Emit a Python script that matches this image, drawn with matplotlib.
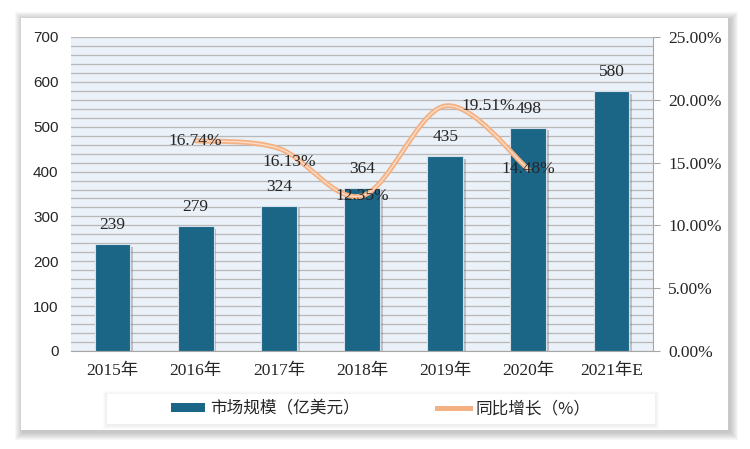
import matplotlib
matplotlib.use('Agg')
import matplotlib.pyplot as plt
from matplotlib.path import Path
from matplotlib.patches import PathPatch, Rectangle, Patch
from matplotlib.lines import Line2D
import matplotlib.patheffects as pe
from matplotlib.ticker import MultipleLocator, FuncFormatter

years = ['2015年', '2016年', '2017年', '2018年', '2019年', '2020年', '2021年E']
market = [239, 279, 324, 364, 435, 498, 580]
growth_idx = [1, 2, 3, 4, 5]
growth = [16.74, 16.13, 12.35, 19.51, 14.48]
growth_labels = ['16.74%', '16.13%', '12.35%', '19.51%', '14.48%']

BAR = '#1B6587'
LINE = '#F4B183'
TXT = '#262626'
SERIF = ['Liberation Serif', 'Noto Sans CJK SC']
CJK = ['Noto Sans CJK SC', 'DejaVu Sans']

W, H = 750, 449
fig = plt.figure(figsize=(W / 100, H / 100), dpi=100)
fig.patch.set_facecolor('white')


def soft_box(x0, y0, x1, y1, steps, alpha, dx, dy, z):
    for k in range(steps, 0, -1):
        fig.patches.append(Rectangle(((x0 - k + dx) / W, (H - y1 - k - dy) / H),
                                     (x1 - x0 + 2 * k) / W, (y1 - y0 + 2 * k) / H,
                                     transform=fig.transFigure, facecolor='#707070',
                                     edgecolor='none', alpha=alpha, zorder=z))
    fig.patches.append(Rectangle((x0 / W, (H - y1) / H), (x1 - x0) / W, (y1 - y0) / H,
                                 transform=fig.transFigure, facecolor='white',
                                 edgecolor='none', zorder=z + 0.1))


# card with shadow
soft_box(21, 18, 728, 430, 8, 0.055, 2, 2, 0)

ax = fig.add_axes([71 / W, (H - 351) / H, 582 / W, 314 / H])
ax.set_zorder(1)
ax.set_facecolor('#EAF1F8')
x = list(range(len(years)))
bars = ax.bar(x, market, width=0.43, color=BAR, edgecolor='#D5E0EA', linewidth=0.8, zorder=3)
for b in bars:
    b.set_path_effects([pe.SimplePatchShadow(offset=(2, -2), alpha=0.3, shadow_rgbFace='#555555'), pe.Normal()])
for xi, v in zip(x, market):
    ax.text(xi, v + 41, str(v), ha='center', va='center', fontsize=12.5, family=SERIF, color=TXT, zorder=5)

ax.set_xlim(-0.5, len(years) - 0.5)
ax.set_ylim(0, 700)
ax.yaxis.set_major_locator(MultipleLocator(100))
ax.yaxis.set_minor_locator(MultipleLocator(20))
ax.grid(True, which='both', axis='y', color='#B8B8B8', linewidth=0.9, zorder=0)
ax.set_axisbelow(True)
ax.set_xticks(x)
ax.set_xticklabels(years, family=SERIF, fontsize=12.5, color=TXT)
for lab in ax.get_yticklabels():
    lab.set_family(['Liberation Sans', 'DejaVu Sans'])
ax.tick_params(axis='y', which='both', length=0, labelsize=11, labelcolor=TXT, pad=9)
ax.tick_params(axis='x', length=0, pad=9)
for s in ['top', 'left', 'right']:
    ax.spines[s].set_visible(False)
ax.spines['bottom'].set_color('#A6A6A6')

ax2 = ax.twinx()
ax2.set_ylim(0, 25)
ax2.set_yticks([0, 5, 10, 15, 20, 25])
ax2.yaxis.set_major_formatter(FuncFormatter(lambda v, p: '%.2f%%' % v))
for lab in ax2.get_yticklabels():
    lab.set_family(SERIF)
ax2.tick_params(axis='y', length=5, color='#A6A6A6', labelsize=12.5, labelcolor=TXT, pad=6)
for s in ['top', 'left', 'bottom']:
    ax2.spines[s].set_visible(False)
ax2.spines['right'].set_color('#A6A6A6')

# smooth line (Catmull-Rom as cubic Bezier)
pts = list(zip(growth_idx, growth))
verts = [pts[0]]
codes = [Path.MOVETO]
n = len(pts)
for i in range(n - 1):
    p0 = pts[max(i - 1, 0)]
    p1 = pts[i]
    p2 = pts[i + 1]
    p3 = pts[min(i + 2, n - 1)]
    c1 = (p1[0] + (p2[0] - p0[0]) / 6, p1[1] + (p2[1] - p0[1]) / 6)
    c2 = (p2[0] - (p3[0] - p1[0]) / 6, p2[1] - (p3[1] - p1[1]) / 6)
    verts += [c1, c2, p2]
    codes += [Path.CURVE4] * 3
path = Path(verts, codes)
ax2.add_patch(PathPatch(path, facecolor='none', edgecolor=LINE, linewidth=3.6, zorder=4, capstyle='round'))
ax2.add_patch(PathPatch(path, facecolor='none', edgecolor='#FBDCC6', linewidth=1.0, zorder=4.1))

offsets = [(0, 0), (0.13, -1.1), (0, 0), (0.52, 0), (0, 0)]
for xi, v, lab, (dx, dy) in zip(growth_idx, growth, growth_labels, offsets):
    ax2.text(xi + dx, v + dy, lab, ha='center', va='center', fontsize=12.5, family=SERIF, color=TXT, zorder=6)

# legend box
soft_box(107, 394, 655, 424, 4, 0.025, 0, 1, 0.8)

handles = [Patch(facecolor=BAR, edgecolor='none'),
           Line2D([0], [0], color=LINE, linewidth=3.6)]
leg = fig.legend(handles, ['市场规模（亿美元）', '同比增长（%）'], ncol=2,
                 loc='center', bbox_to_anchor=(381 / W, (H - 409) / H),
                 prop={'family': CJK, 'size': 12}, frameon=False,
                 handlelength=2.0, handleheight=0.5, columnspacing=4.6,
                 borderpad=0.45, handletextpad=0.35)
for t in leg.get_texts():
    t.set_color(TXT)

fig.savefig('out.png', dpi=100, facecolor='white')
